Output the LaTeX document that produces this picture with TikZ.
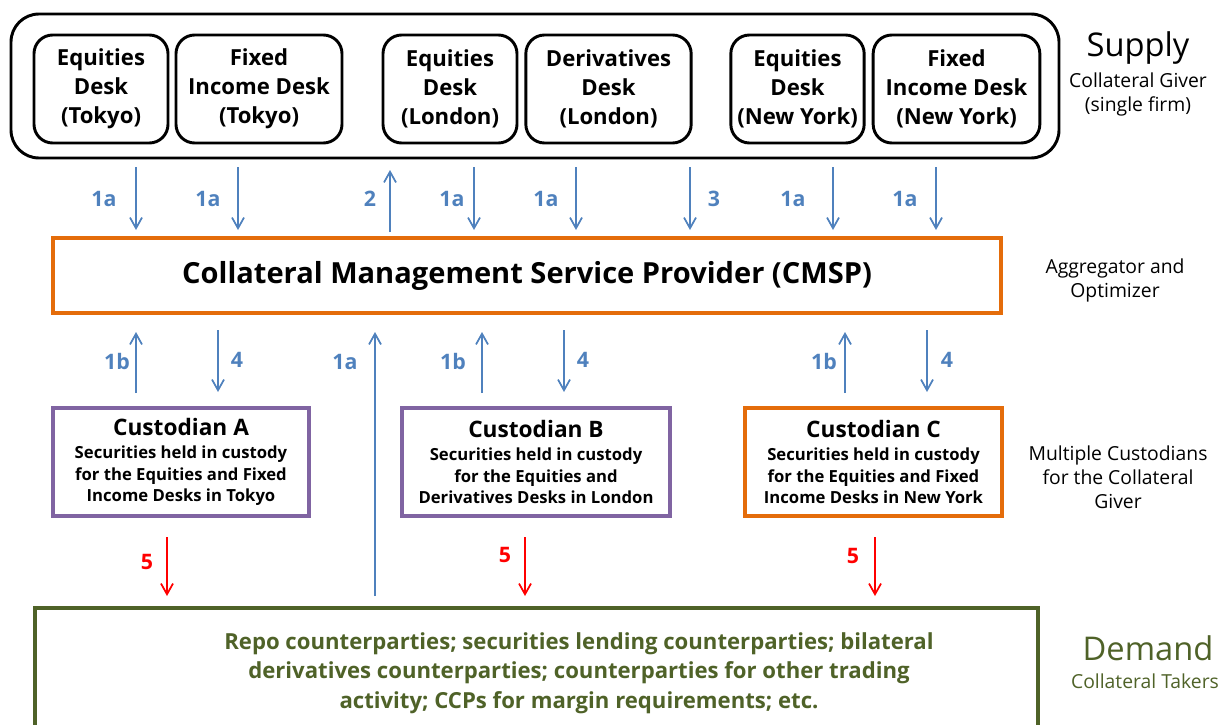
\documentclass[tikz,border=0pt]{standalone}
\usepackage{fontspec}
\setmainfont{Open Sans}
\usetikzlibrary{arrows.meta}
\definecolor{ablue}{HTML}{4F81BD}
\definecolor{aorange}{HTML}{E46C0A}
\definecolor{apurple}{HTML}{8064A2}
\definecolor{aolive}{HTML}{4F6228}
\definecolor{ared}{HTML}{FF0000}
\newcommand{\custtitle}{\fontsize{17}{20}\selectfont}
\newcommand{\custbody}{\fontsize{12.5}{16.2}\selectfont}
\tikzset{
  box/.style={draw, line width=2.2pt, inner sep=0pt, outer sep=0pt, align=center},
  cbox/.style={box, line width=3pt},
  desk/.style={box, rounded corners=14pt, minimum height=81pt,
    font=\bfseries\fontsize{16.6}{21.75}\selectfont},
  cust/.style={cbox, minimum height=81pt, font=\bfseries\custbody},
  barr/.style={draw=ablue, line width=1.3pt, -{Straight Barb[length=8pt,width=9pt]}},
  rarr/.style={draw=ared, line width=1.3pt, -{Straight Barb[length=8pt,width=9pt]}},
  blab/.style={text=ablue, font=\bfseries\fontsize{16}{18}\selectfont},
  rlab/.style={text=ared, font=\bfseries\fontsize{16}{18}\selectfont},
  side/.style={align=center, font=\fontsize{14.5}{18}\selectfont},
  big/.style={font=\fontsize{24.5}{28}\selectfont},
}
\begin{document}
\begin{tikzpicture}[x=0.75pt,y=-0.75pt]
\useasboundingbox (0,0) rectangle (1219,724);
% supply
\node[box, rounded corners=21pt, minimum width=786pt, minimum height=108pt] (outer) at (535,86) {};
\node[desk, minimum width=100.5pt] (d1) at (101,89) {Equities\\Desk\\(Tokyo)};
\node[desk, minimum width=124.5pt] (d2) at (259,89) {Fixed\\Income Desk\\(Tokyo)};
\node[desk, minimum width=100.5pt] (d3) at (450,89) {Equities\\Desk\\(London)};
\node[desk, minimum width=124pt] (d4) at (608.5,89) {Derivatives\\Desk\\(London)};
\node[desk, minimum width=100pt] (d5) at (797.5,89) {Equities\\Desk\\(New York)};
\node[desk, minimum width=125pt] (d6) at (956.5,89) {Fixed\\Income Desk\\(New York)};
% desk labels positioned slightly lower, as in the reference
% CMSP
\node[cbox, draw=aorange, minimum width=711pt, minimum height=56.25pt,
  font=\bfseries\fontsize{21.8}{24}\selectfont] (cmsp) at (527,275.5)
  {Collateral Management Service Provider (CMSP)};
% custodians
\node[cust, draw=apurple, minimum width=192pt] (ca) at (181,462)
  {\custtitle Custodian A\\[1pt]\custbody Securities held in custody\\for the Equities and Fixed\\Income Desks in Tokyo};
\node[cust, draw=apurple, minimum width=201pt] (cb) at (536,462)
  {\custtitle Custodian B\\[1pt]\custbody Securities held in custody\\for the Equities and\\Derivatives Desks in London};
\node[cust, draw=aorange, minimum width=193pt] (cc) at (873.5,462)
  {\custtitle Custodian C\\[1pt]\custbody Securities held in custody\\for the Equities and Fixed\\Income Desks in New York};
% demand
\node[cbox, draw=aolive, minimum width=752pt, minimum height=114pt] (dem) at (536.5,684) {};
\node[align=center, text=aolive, font=\bfseries\fontsize{16.6}{22}\selectfont] (demtext) at (579,673)
  {Repo counterparties; securities lending counterparties; bilateral\\derivatives counterparties; counterparties for other trading\\activity; CCPs for margin requirements; etc.};
% side texts
\node[big] (supply) at (1138,48) {Supply};
\node[side] (giver) at (1138,94) {Collateral Giver\\(single firm)};
\node[side] (aggr) at (1115,280.5) {Aggregator and\\Optimizer};
\node[side] (multi) at (1118,477) {Multiple Custodians\\for the Collateral\\Giver};
\node[big, text=aolive] (demand) at (1148,648) {Demand};
\node[side, text=aolive] (takers) at (1145,681) {Collateral Takers};
% x coordinates
\foreach \n/\x in {a/136,b/238,c/390,d/474,e/576,f/690,g/833,h/936,
  i/136,j/218,k/375,l/482,m/564,n/845,o/927,p/167,q/525,r/875}
  \coordinate (x\n) at (\x,0);
% row 1
\foreach \n in {a,b,d,e,f,g,h}
  \draw[barr] ([yshift=-6.75pt]outer.south -| x\n) -- ([yshift=6pt]cmsp.north -| x\n);
\draw[barr] ([yshift=4.5pt]cmsp.north -| xc) -- ([yshift=-9pt]outer.south -| xc);
% row 2
\draw[barr] ([yshift=11.25pt]ca.north -| xi) -- ([yshift=-14.25pt]cmsp.south -| xi);
\draw[barr] ([yshift=-12.75pt]cmsp.south -| xj) -- ([yshift=12pt]ca.north -| xj);
\draw[barr] ([yshift=11.25pt]cb.north -| xl) -- ([yshift=-14.25pt]cmsp.south -| xl);
\draw[barr] ([yshift=-12.75pt]cmsp.south -| xm) -- ([yshift=12pt]cb.north -| xm);
\draw[barr] ([yshift=11.25pt]cc.north -| xn) -- ([yshift=-14.25pt]cmsp.south -| xn);
\draw[barr] ([yshift=-12.75pt]cmsp.south -| xo) -- ([yshift=12pt]cc.north -| xo);
\draw[barr] ([yshift=9pt]dem.north -| xk) -- ([yshift=-14.25pt]cmsp.south -| xk);
% row 3
\draw[rarr] ([yshift=-15.75pt]ca.south -| xp) -- ([yshift=9pt]dem.north -| xp);
\draw[rarr] ([yshift=-15.75pt]cb.south -| xq) -- ([yshift=9pt]dem.north -| xq);
\draw[rarr] ([yshift=-15.75pt]cc.south -| xr) -- ([yshift=9pt]dem.north -| xr);
% labels
\node[blab] (l1) at (104,199) {1a};
\node[blab] (l2) at (208,199) {1a};
\node[blab] (l3) at (370,199) {2};
\node[blab] (l4) at (452,199) {1a};
\node[blab] (l5) at (546,199) {1a};
\node[blab] (l6) at (714,199) {3};
\node[blab] (l7) at (793,199) {1a};
\node[blab] (l8) at (905,199) {1a};
\node[blab] (m1) at (117,361) {1b};
\node[blab] (m2) at (237,360) {4};
\node[blab] (m3) at (345,362) {1a};
\node[blab] (m4) at (453,361) {1b};
\node[blab] (m5) at (583,360) {4};
\node[blab] (m6) at (824,361) {1b};
\node[blab] (m7) at (947,360) {4};
\node[rlab] (r1) at (147,562) {5};
\node[rlab] (r2) at (505,555) {5};
\node[rlab] (r3) at (853,556) {5};
\end{tikzpicture}
\end{document}
